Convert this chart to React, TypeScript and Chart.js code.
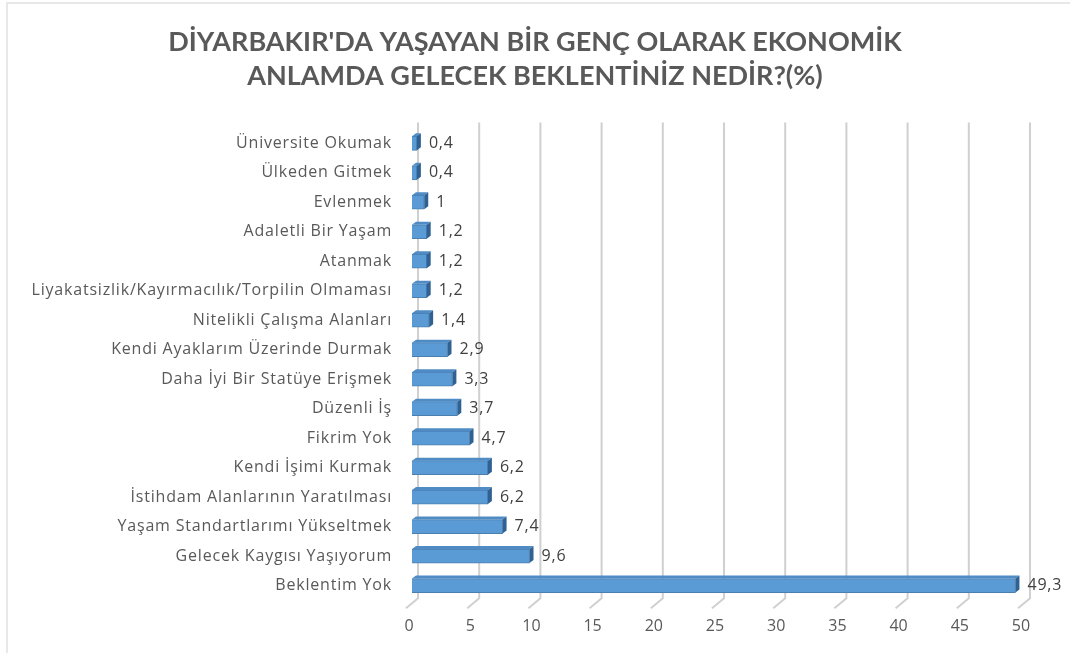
import React, { useEffect, useRef } from "react";
import { Chart, registerables } from "chart.js";

Chart.register(...registerables);

const titleLines = [
  "DİYARBAKIR'DA YAŞAYAN BİR GENÇ OLARAK EKONOMİK",
  "ANLAMDA GELECEK BEKLENTİNİZ NEDİR?(%)",
];

const categories = [
  "Üniversite Okumak",
  "Ülkeden Gitmek",
  "Evlenmek",
  "Adaletli Bir Yaşam",
  "Atanmak",
  "Liyakatsizlik/Kayırmacılık/Torpilin Olmaması",
  "Nitelikli Çalışma Alanları",
  "Kendi Ayaklarım Üzerinde Durmak",
  "Daha İyi Bir Statüye Erişmek",
  "Düzenli İş",
  "Fikrim Yok",
  "Kendi İşimi Kurmak",
  "İstihdam Alanlarının Yaratılması",
  "Yaşam Standartlarımı Yükseltmek",
  "Gelecek Kaygısı Yaşıyorum",
  "Beklentim Yok",
];

const values = [0.4, 0.4, 1, 1.2, 1.2, 1.2, 1.4, 2.9, 3.3, 3.7, 4.7, 6.2, 6.2, 7.4, 9.6, 49.3];

const xMin = 0;
const xMax = 50;
const xStep = 5;

const TITLE_FONT = "Lato, 'Open Sans', sans-serif";
const FONT = "'Open Sans', Lato, sans-serif";
const TEXT = "#595959";
const DEPTH_X = 4;
const DEPTH_Y = 3;
const SPACING = "0.8px";

const formatValue = (v: number) => String(v).replace(".", ",");

const backGrid = {
  id: "backGrid",
  beforeDatasetsDraw(chart: any) {
    const ctx = chart.ctx;
    const xs = chart.scales.x;
    const area = chart.chartArea;
    ctx.save();
    ctx.strokeStyle = "#d0d0d0";
    ctx.lineWidth = 2;
    for (let v = xMin; v <= xMax; v += xStep) {
      const x = xs.getPixelForValue(v) + 6;
      ctx.beginPath();
      ctx.moveTo(x, area.top - 6);
      ctx.lineTo(x, area.bottom - 2);
      ctx.lineTo(x - 12, area.bottom + 8);
      ctx.stroke();
    }
    ctx.restore();
  },
};

const bars3d = {
  id: "bars3d",
  afterDatasetsDraw(chart: any) {
    const ctx = chart.ctx;
    const meta = chart.getDatasetMeta(0);
    ctx.save();
    meta.data.forEach((bar: any, i: number) => {
      const h = bar.height;
      const top = bar.y - h / 2;
      const bottom = bar.y + h / 2;
      const x = bar.x;
      const base = bar.base;
      ctx.fillStyle = "#4F8CC6";
      ctx.beginPath();
      ctx.moveTo(base, top);
      ctx.lineTo(base + DEPTH_X, top - DEPTH_Y);
      ctx.lineTo(x + DEPTH_X, top - DEPTH_Y);
      ctx.lineTo(x, top);
      ctx.closePath();
      ctx.fill();
      ctx.fillStyle = "#2F6193";
      ctx.beginPath();
      ctx.moveTo(x, top);
      ctx.lineTo(x + DEPTH_X, top - DEPTH_Y);
      ctx.lineTo(x + DEPTH_X, bottom - DEPTH_Y);
      ctx.lineTo(x, bottom);
      ctx.closePath();
      ctx.fill();
      ctx.font = `16px ${FONT}`;
      (ctx as any).letterSpacing = SPACING;
      ctx.fillStyle = "#404040";
      ctx.textAlign = "left";
      ctx.textBaseline = "middle";
      ctx.fillText(formatValue(values[i]), x + 12, bar.y);
    });
    ctx.restore();
    // spacing for the category labels drawn after the datasets
    (ctx as any).letterSpacing = SPACING;
  },
  afterDraw(chart: any) {
    (chart.ctx as any).letterSpacing = "0px";
  },
};

export default function App() {
  const ref = useRef<HTMLCanvasElement | null>(null);

  useEffect(() => {
    if (!ref.current) return;
    const chart = new Chart(ref.current, {
      type: "bar",
      data: {
        labels: categories,
        datasets: [
          {
            data: values,
            backgroundColor: "#5B9BD5",
            borderColor: "#4A7FB0",
            borderWidth: 1,
            barThickness: 14,
            yAxisID: "y",
          },
        ],
      },
      options: {
        indexAxis: "y",
        animation: false,
        responsive: false,
        maintainAspectRatio: false,
        layout: { padding: { left: 0, right: 0, top: 0, bottom: 0 } },
        plugins: {
          legend: { display: false },
          tooltip: { enabled: false },
          title: {
            display: true,
            text: titleLines,
            color: TEXT,
            font: { family: TITLE_FONT, size: 27, weight: "bold", lineHeight: 1.27 },
            padding: { top: 25, bottom: 35 },
          },
        },
        scales: {
          x: {
            min: xMin,
            max: xMax,
            afterFit: (scale: any) => {
              scale.height = 52.7;
            },
            ticks: {
              stepSize: xStep,
              color: TEXT,
              font: { family: FONT, size: 16 },
              padding: 17,
              labelOffset: -3,
            },
            grid: { display: false, drawTicks: false },
            border: { display: false },
          },
          y: {
            position: "left",
            afterFit: (scale: any) => {
              scale.width = 412;
            },
            ticks: {
              color: TEXT,
              font: { family: FONT, size: 16 },
              padding: 20,
              autoSkip: false,
              z: 1,
            },
            grid: { display: false, drawTicks: false },
            border: { display: false },
          },
          yR: {
            type: "category",
            position: "right",
            afterFit: (scale: any) => {
              scale.width = 46;
            },
            ticks: { display: false },
            grid: { display: false, drawTicks: false },
            border: { display: false },
          },
        },
      },
      plugins: [backGrid, bars3d],
    });
    return () => chart.destroy();
  }, []);

  return (
    <div style={{ position: "fixed", left: 0, top: 0, width: 1070, height: 653, background: "#fff" }}>
      <div
        style={{
          position: "absolute",
          left: 6,
          top: 2,
          width: 1080,
          height: 670,
          borderLeft: "2px solid #e8e8e8",
          borderTop: "2px solid #e8e8e8",
        }}
      />
      <canvas ref={ref} width={1070} height={653} style={{ position: "absolute", left: 0, top: 0 }} />
    </div>
  );
}
